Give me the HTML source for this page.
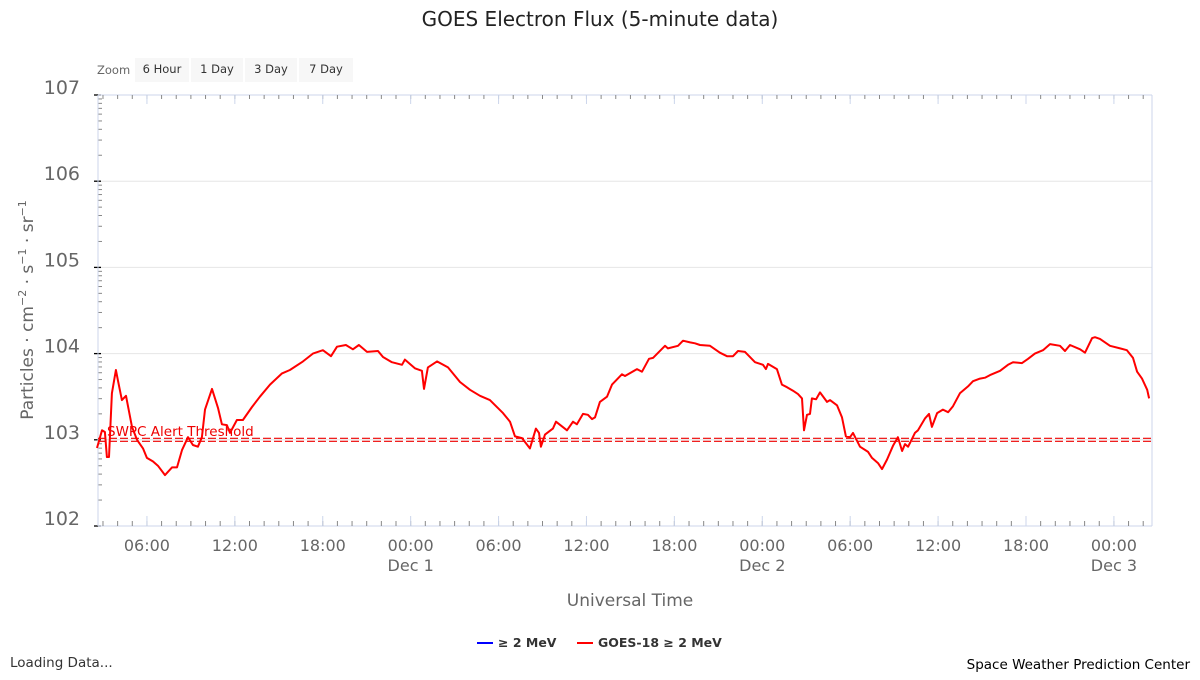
<!DOCTYPE html>
<html><head><meta charset="utf-8"><style>
body{margin:0;background:#fff;width:1200px;height:675px;overflow:hidden;font-family:"Liberation Sans","DejaVu Sans",sans-serif}
svg text{font-family:"DejaVu Sans","Liberation Sans",sans-serif}
</style></head><body>
<svg id="chart" width="1200" height="675">
<text x="600" y="26" text-anchor="middle" font-size="20" fill="#222">GOES Electron Flux (5-minute data)</text>
<g>
<text x="97" y="74" font-size="11.5" fill="#666">Zoom</text>
<g><rect x="135" y="58" width="54" height="24" fill="#f7f7f7"/><text x="162" y="73" font-size="11.5" text-anchor="middle" fill="#333">6 Hour</text></g>
<g><rect x="191" y="58" width="52" height="24" fill="#f7f7f7"/><text x="217" y="73" font-size="11.5" text-anchor="middle" fill="#333">1 Day</text></g>
<g><rect x="245" y="58" width="52" height="24" fill="#f7f7f7"/><text x="271" y="73" font-size="11.5" text-anchor="middle" fill="#333">3 Day</text></g>
<g><rect x="299" y="58" width="54" height="24" fill="#f7f7f7"/><text x="326" y="73" font-size="11.5" text-anchor="middle" fill="#333">7 Day</text></g>
</g>
<g id="grid"></g><g id="axes"></g><g id="series"></g>
<text x="630" y="606" text-anchor="middle" font-size="17" fill="#666">Universal Time</text>
<text transform="translate(33,310) rotate(-90)" text-anchor="middle" font-size="17" fill="#666">Particles · cm<tspan font-size="11" dy="-7">−2</tspan><tspan dy="7"> · s</tspan><tspan font-size="11" dy="-7">−1</tspan><tspan dy="7"> · sr</tspan><tspan font-size="11" dy="-7">−1</tspan></text>
<g>
<g><line x1="477" y1="643" x2="493" y2="643" stroke="#0000ff" stroke-width="2"/><text x="498" y="647" font-size="12.5" font-weight="bold" fill="#333">≥ 2 MeV</text></g>
<g><line x1="577" y1="643" x2="593" y2="643" stroke="#ff0000" stroke-width="2"/><text x="598" y="647" font-size="12.5" font-weight="bold" fill="#333">GOES-18 ≥ 2 MeV</text></g>
</g>
<text x="10" y="667" font-size="13.5" fill="#333">Loading Data...</text>
<text x="1190" y="669" text-anchor="end" font-size="13.5" fill="#000">Space Weather Prediction Center</text>
</svg>
<script>
// hours since Nov 30 00:00 UTC
const hours=[2.59,2.93,3.13,3.27,3.41,3.61,3.88,4.02,4.29,4.57,4.98,5.32,5.73,6.00,6.41,6.75,7.23,7.71,8.05,8.39,8.80,9.14,9.48,9.75,9.96,10.44,10.85,11.12,11.46,11.67,12.14,12.55,13.17,13.71,14.40,15.22,15.76,16.65,17.33,18.01,18.56,18.97,19.58,20.06,20.47,21.02,21.77,22.11,22.72,23.41,23.61,24.29,24.77,24.91,25.18,25.80,26.55,27.37,28.05,28.73,29.41,30.30,30.78,31.12,31.60,32.14,32.55,32.76,32.89,33.17,33.71,33.92,34.67,35.08,35.35,35.76,36.10,36.38,36.58,36.92,37.40,37.74,38.42,38.63,39.45,39.79,40.27,40.54,41.36,41.56,42.25,42.59,43.07,43.41,43.75,44.43,45.11,45.59,46.00,46.34,46.82,47.50,48.05,48.25,48.39,49.00,49.34,49.69,50.10,50.44,50.71,50.85,51.05,51.26,51.39,51.67,51.94,52.42,52.62,53.10,53.44,53.71,53.99,54.19,54.67,55.22,55.49,55.90,56.17,56.51,56.92,57.26,57.54,57.74,57.95,58.22,58.42,58.63,59.11,59.38,59.58,59.93,60.33,60.68,61.02,61.49,62.04,62.38,62.86,63.20,63.54,64.23,64.77,65.11,65.73,66.14,66.61,67.16,67.64,68.32,68.66,69.00,69.69,70.03,70.51,70.71,71.05,71.73,72.42,72.89,73.30,73.58,73.92,74.27,74.40];
// log10 of GOES-18 >=2 MeV flux
const fluxLog=[2.905,3.11,3.09,2.80,2.80,3.54,3.81,3.69,3.46,3.51,3.15,3.00,2.90,2.79,2.75,2.70,2.59,2.68,2.68,2.88,3.03,2.94,2.92,3.03,3.35,3.59,3.37,3.18,3.17,3.08,3.23,3.23,3.38,3.50,3.64,3.77,3.81,3.91,4.00,4.04,3.97,4.08,4.10,4.05,4.10,4.02,4.03,3.96,3.90,3.87,3.93,3.83,3.80,3.59,3.84,3.91,3.84,3.67,3.58,3.51,3.46,3.31,3.21,3.04,3.02,2.90,3.13,3.08,2.92,3.06,3.13,3.21,3.11,3.21,3.18,3.30,3.29,3.24,3.26,3.44,3.50,3.64,3.76,3.74,3.82,3.79,3.94,3.95,4.09,4.06,4.09,4.15,4.13,4.12,4.10,4.09,4.01,3.97,3.97,4.03,4.02,3.90,3.87,3.82,3.88,3.82,3.64,3.61,3.57,3.53,3.48,3.11,3.29,3.30,3.48,3.47,3.55,3.44,3.46,3.40,3.26,3.04,3.03,3.08,2.92,2.86,2.79,2.73,2.66,2.77,2.93,3.03,2.87,2.95,2.92,3.01,3.08,3.11,3.25,3.30,3.15,3.31,3.35,3.32,3.39,3.54,3.62,3.68,3.71,3.72,3.75,3.80,3.87,3.90,3.89,3.94,4.00,4.04,4.11,4.09,4.03,4.10,4.05,4.01,4.18,4.19,4.17,4.09,4.06,4.04,3.95,3.79,3.71,3.58,3.48];
const xTickHours=[6,12,18,24,30,36,42,48,54,60,66,72];
const xTickLabels=["06:00","12:00","18:00","00:00","06:00","12:00","18:00","00:00","06:00","12:00","18:00","00:00"];
const xDateLabels={24:"Dec 1",48:"Dec 2",72:"Dec 3"};
const yDecades=[2,3,4,5,6,7];
const thresholdLog=3;

const NS="http://www.w3.org/2000/svg";
const L=98,R=1152,T=95,B=526,H0=2.66,H1=74.6,V0=2,V1=7;
const xs=h=>L+(h-H0)/(H1-H0)*(R-L);
const ys=v=>B-(v-V0)/(V1-V0)*(B-T);
function mk(tag,attrs,parent){const e=document.createElementNS(NS,tag);for(const k in attrs)e.setAttribute(k,attrs[k]);parent.appendChild(e);return e;}
const grid=document.getElementById('grid'),axes=document.getElementById('axes'),series=document.getElementById('series');

yDecades.forEach(d=>{
  const y=ys(d);
  if(d>V0&&d<V1){const g=mk('line',{x1:L,x2:R,y1:y,y2:y,stroke:'#e6e6e6'},grid);
  
  }
  const t=mk('text',{x:80,y:y-1,'text-anchor':'end','font-size':19,fill:'#666'},axes);
  t.textContent='10'+d;
  
  
  mk('line',{x1:L-4,x2:L+3,y1:y,y2:y,stroke:'#000','stroke-width':1.3},axes);
  if(d<V1){for(let k=2;k<10;k++){const yy=ys(d+Math.log10(k));mk('line',{x1:L,x2:L+4,y1:yy,y2:yy,stroke:'#888'},axes);}}
});
mk('line',{x1:L,x2:L,y1:T,y2:B,stroke:'#ccd6eb'},axes);
mk('line',{x1:R,x2:R,y1:T,y2:B,stroke:'#ccd6eb'},axes);
mk('line',{x1:L,x2:R,y1:B,y2:B,stroke:'#ccd6eb'},axes);
mk('line',{x1:L,x2:R,y1:T,y2:T,stroke:'#ccd6eb'},axes);
for(let h=3;h<=74;h++){const x=xs(h);mk('line',{x1:x,x2:x,y1:B-5,y2:B,stroke:'#888'},axes);mk('line',{x1:x,x2:x,y1:T,y2:T+4,stroke:'#888'},axes);}
xTickHours.forEach((h,i)=>{
  const x=xs(h);
  mk('line',{x1:x,x2:x,y1:B-10,y2:B,stroke:'#ccd6eb'},axes);
  mk('line',{x1:x,x2:x,y1:T,y2:T+9,stroke:'#ccd6eb'},axes);
  const t=mk('text',{x:x,y:551,'text-anchor':'middle','font-size':16,fill:'#666'},axes);
  t.textContent=xTickLabels[i];
  
  
  if(xDateLabels[h]){const d=mk('text',{x:x,y:571,'text-anchor':'middle','font-size':16,fill:'#666'},axes);d.textContent=xDateLabels[h];
  
  }
});
const ty=ys(thresholdLog);
[-1.5,1.5].forEach(o=>{const l=mk('line',{x1:L,x2:R,y1:ty+o,y2:ty+o,stroke:'#e00','stroke-width':1.2,'stroke-dasharray':'8 3'},series);

});
const tl=mk('text',{x:107,y:ty-4,'font-size':13.5,fill:'#e00'},series);
tl.textContent='SWPC Alert Threshold';


const p=mk('path',{d:hours.map((h,i)=>(i?'L':'M')+xs(h).toFixed(1)+','+ys(fluxLog[i]).toFixed(1)).join(''),fill:'none',stroke:'#ff0000','stroke-width':2,'stroke-linejoin':'round'},series);


</script>
</body></html>
